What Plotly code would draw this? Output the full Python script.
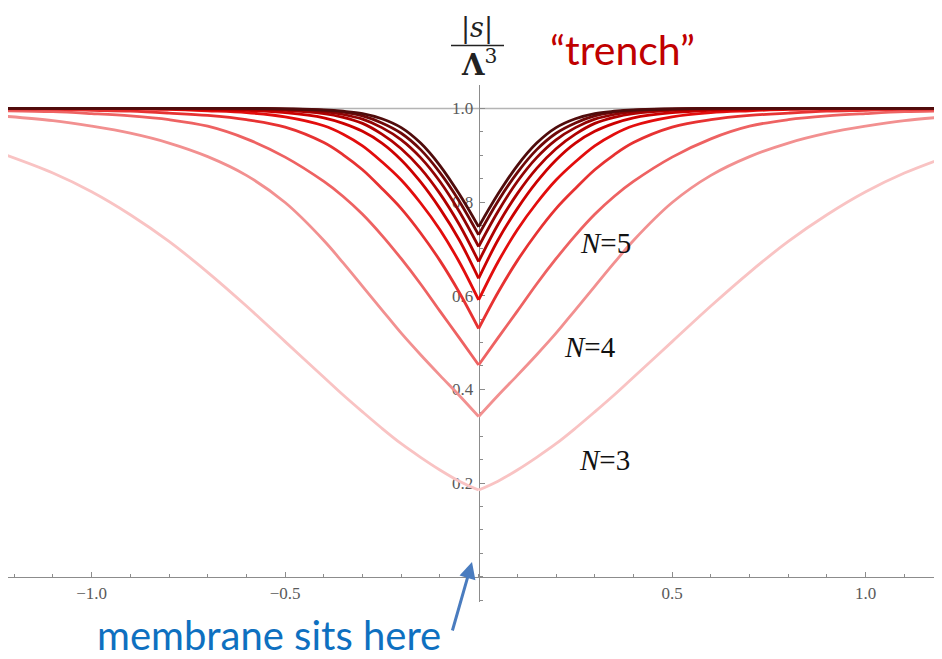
import plotly.graph_objects as go

# ---- data (right half; the curves are mirror-symmetric about x=0) ----
X_OFFSETS = [0.0, 0.05, 0.1, 0.15, 0.2, 0.25, 0.3, 0.35, 0.4, 0.5, 0.6, 0.7, 0.8, 0.9, 1.0, 1.1, 1.22]

S_N3  = [0.185, 0.204, 0.228, 0.255, 0.284, 0.317, 0.352, 0.388, 0.426, 0.502, 0.578, 0.650, 0.716, 0.773, 0.822, 0.862, 0.900]
S_N4  = [0.342, 0.387, 0.430, 0.474, 0.520, 0.570, 0.620, 0.670, 0.718, 0.799, 0.857, 0.897, 0.926, 0.947, 0.962, 0.974, 0.983]
S_N5  = [0.452, 0.510, 0.567, 0.625, 0.679, 0.729, 0.774, 0.812, 0.844, 0.896, 0.935, 0.962, 0.976, 0.984, 0.989, 0.993, 0.995]
S_N6  = [0.530, 0.607, 0.675, 0.734, 0.786, 0.829, 0.869, 0.901, 0.927, 0.960, 0.976, 0.985, 0.990, 0.994, 0.996, 0.998, 0.999]
S_N7  = [0.591, 0.672, 0.741, 0.798, 0.847, 0.886, 0.920, 0.945, 0.963, 0.982, 0.991, 0.995, 0.998, 0.999, 1.000, 1.000, 1.000]
S_N8  = [0.637, 0.719, 0.786, 0.843, 0.890, 0.926, 0.951, 0.968, 0.980, 0.991, 0.996, 0.998, 0.999, 1.000, 1.000, 1.000, 1.000]
S_N9  = [0.673, 0.752, 0.818, 0.872, 0.914, 0.945, 0.968, 0.981, 0.989, 0.996, 0.998, 0.999, 1.000, 1.000, 1.000, 1.000, 1.000]
S_N10 = [0.705, 0.780, 0.844, 0.895, 0.933, 0.959, 0.977, 0.987, 0.993, 0.998, 0.999, 1.000, 1.000, 1.000, 1.000, 1.000, 1.000]
S_N11 = [0.730, 0.802, 0.863, 0.912, 0.947, 0.969, 0.984, 0.992, 0.996, 0.999, 1.000, 1.000, 1.000, 1.000, 1.000, 1.000, 1.000]
S_N12 = [0.747, 0.817, 0.878, 0.926, 0.959, 0.978, 0.989, 0.994, 0.997, 0.999, 1.000, 1.000, 1.000, 1.000, 1.000, 1.000, 1.000]

SERIES = [S_N3, S_N4, S_N5, S_N6, S_N7, S_N8, S_N9, S_N10, S_N11, S_N12]
COLORS = ["#f9c3c3", "#f29090", "#ee6262", "#e73232", "#e30d0d",
          "#cc0000", "#b00000", "#920404", "#700808", "#500c0c"]

X_TICKS = [-1.0, -0.5, 0.5, 1.0]
X_TICK_TEXT = ["\u22121.0", "\u22120.5", "0.5", "1.0"]
Y_TICKS = [0.2, 0.4, 0.6, 0.8, 1.0]
Y_TICK_TEXT = ["0.2", "0.4", "0.6", "0.8", "1.0"]

N_LABELS = ["<i>N</i>=5", "<i>N</i>=4", "<i>N</i>=3"]
N_LABEL_X = [0.327, 0.288, 0.324]
N_LABEL_Y = [0.712, 0.490, 0.249]

XMIN, XMAX = -1.216, 1.192
YMIN, YMAX = -0.054, 1.050

# the page body has an 8px margin, so the figure is drawn 8px in from the window corner
OFF = 8
W, H = 942 - OFF, 659 - OFF
ML, MR, MT, MB = 0, 2, 77, 57
PW, PH = W - ML - MR, H - MT - MB


def paper(px, py):
    """window pixel -> paper fraction"""
    return (px - OFF - ML) / PW, (H - MB - (py - OFF)) / PH


fig = go.Figure()

for ys, col in zip(SERIES, COLORS):
    for sign in (1, -1):
        fig.add_trace(go.Scatter(
            x=[sign * v for v in X_OFFSETS], y=ys, mode="lines",
            line=dict(color=col, width=2.8, shape="spline", smoothing=1.0),
            showlegend=False, hoverinfo="skip"))

fig.add_hline(y=1.0, line=dict(color="#b4b4b4", width=1.5), layer="below")

axis_font = dict(family="Liberation Serif, DejaVu Serif, serif", size=17, color="#5a5a5a")

fig.update_xaxes(
    range=[XMIN, XMAX], anchor="free", position=(0 - YMIN) / (YMAX - YMIN),
    showline=True, linecolor="#8c8c8c", linewidth=1, showgrid=False, zeroline=False,
    tickvals=X_TICKS, ticktext=X_TICK_TEXT, ticks="inside", ticklen=5, tickcolor="#8c8c8c",
    tickfont=axis_font, ticklabelstandoff=1, automargin=False,
    minor=dict(dtick=0.1, tick0=0, ticks="inside", ticklen=3, tickcolor="#8c8c8c"),
    layer="below traces")

fig.update_yaxes(
    range=[YMIN, YMAX], anchor="free", position=(0 - XMIN) / (XMAX - XMIN),
    showline=True, linecolor="#8c8c8c", linewidth=1, showgrid=False, zeroline=False,
    tickvals=Y_TICKS, ticktext=Y_TICK_TEXT, ticks="inside", ticklen=5, tickcolor="#8c8c8c",
    tickfont=axis_font, ticklabelstandoff=2, automargin=False,
    minor=dict(dtick=0.05, tick0=0, ticks="inside", ticklen=3, tickcolor="#8c8c8c"),
    layer="below traces")

annotations = []
for t, x, y in zip(N_LABELS, N_LABEL_X, N_LABEL_Y):
    annotations.append(dict(x=x, y=y, xref="x", yref="y", text=t, showarrow=False,
                            xanchor="center", yanchor="middle",
                            font=dict(family="Liberation Serif, serif", size=29, color="#111111")))


def text_at(px, py, text, font):
    fx, fy = paper(px, py)
    annotations.append(dict(x=fx, y=fy, xref="paper", yref="paper", text=text,
                            showarrow=False, xanchor="center", yanchor="middle", font=font))


# axis label as a fraction |s| / Λ^3
text_at(477, 28, "|<i>s</i>|", dict(family="DejaVu Serif, serif", size=27, color="#222"))
text_at(479, 63, "<b>Λ</b><sup>3</sup>", dict(family="DejaVu Serif, serif", size=29, color="#222"))
text_at(622, 49, "\u201ctrench\u201d", dict(family="Lato, sans-serif", size=41, color="#c00000"))
text_at(269, 635, "membrane sits here", dict(family="Lato, sans-serif", size=40, color="#0e70c0"))

hx, hy = paper(472, 562)
annotations.append(dict(x=hx, y=hy, xref="paper", yref="paper", text="", showarrow=True,
                        ax=-20, ay=70, arrowhead=2, arrowsize=1.1, arrowwidth=3,
                        arrowcolor="#4a7cbf"))

x0, y0 = paper(451, 45.5)
x1, _ = paper(504, 45.5)
fig.add_shape(type="line", xref="paper", yref="paper", x0=x0, x1=x1, y0=y0, y1=y0,
              line=dict(color="#222", width=1.5))

fig.update_layout(
    width=W, height=H, margin=dict(l=ML, r=MR, t=MT, b=MB),
    paper_bgcolor="white", plot_bgcolor="white",
    annotations=annotations, showlegend=False)

fig.write_html("out.html")
